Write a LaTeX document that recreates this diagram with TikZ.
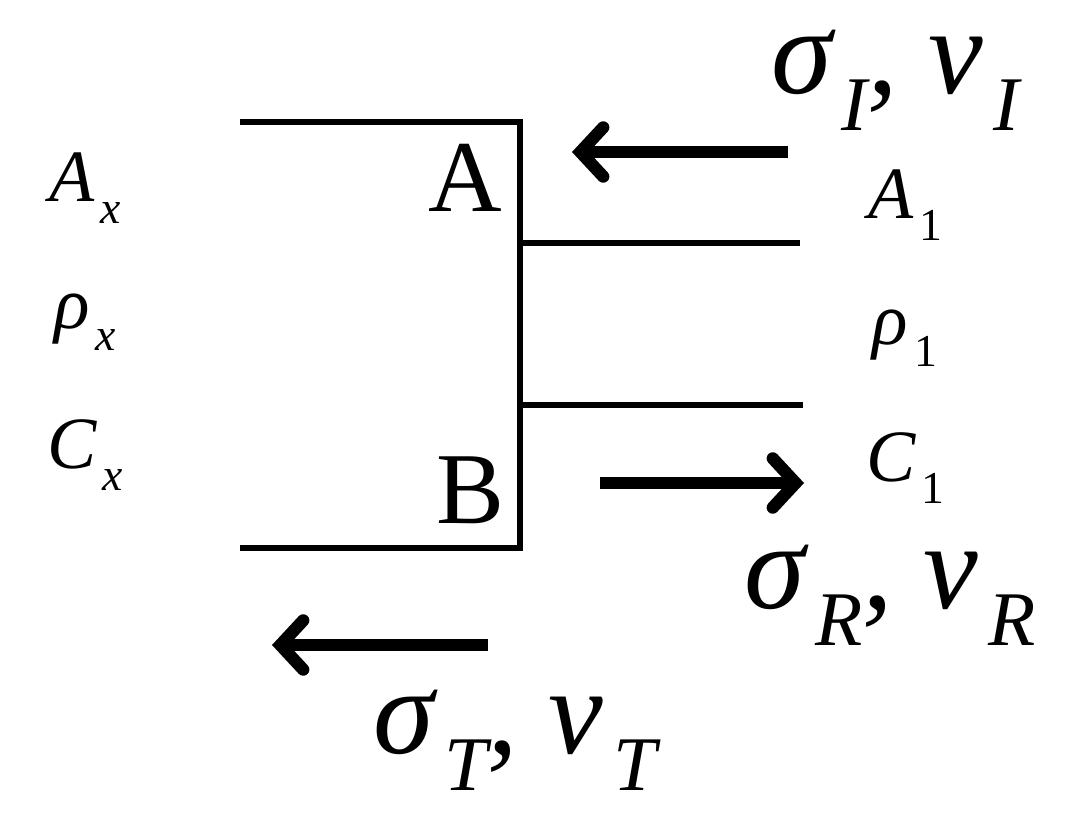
\documentclass[tikz,border=0pt]{standalone}
\usepackage{fontspec}
\setmainfont{Liberation Serif}
\usetikzlibrary{arrows.meta}
\newcommand{\lab}[4]{{\fontsize{#1}{#1}\selectfont\itshape #3\kern0.08em\raisebox{-0.3em}{\fontsize{#2}{#2}\selectfont #4}}}
\tikzset{wall/.style={line width=3.8pt},
  flow/.style={line width=7pt,-{Straight Barb[length=13pt,width=28pt,line cap=round]}},
  big/.style={inner sep=0pt,anchor=center}}
\begin{document}
\begin{tikzpicture}[x=0.02cm,y=-0.02cm]
\useasboundingbox (0,0) rectangle (1076,834);
\coordinate (t1) at (240,122); \coordinate (t2) at (520,122);
\coordinate (b1) at (240,548); \coordinate (b2) at (520,548);
\coordinate (m1) at (520,243); \coordinate (m2) at (800,243);
\coordinate (n1) at (520,405); \coordinate (n2) at (803,405);
\draw[wall] (t1) -- (t2) -- (b2) -- (b1);
\draw[wall] (m1) -- (m2);
\draw[wall] (n1) -- (n2);
\coordinate (a1) at (788,152); \coordinate (a2) at (572,152);
\coordinate (r1) at (600,483); \coordinate (r2) at (804,483);
\coordinate (s1) at (488,645); \coordinate (s2) at (272,645);
\draw[flow] (a1) -- (a2);
\draw[flow] (r1) -- (r2);
\draw[flow] (s1) -- (s2);
\node[big] (A) at (465,178) {\fontsize{58}{58}\selectfont A};
\node[big] (B) at (470,490) {\fontsize{58}{58}\selectfont B};
\node[big] (Ax) at (85,188) {\lab{42}{26}{A}{x}};
\node[big] (rx) at (85,322) {\lab{42}{26}{ρ}{x}};
\node[big] (Cx) at (85,455) {\lab{42}{26}{C}{x}};
\node[big] (A1) at (905,205) {\lab{42}{26}{A}{\upshape 1}};
\node[big] (r1l) at (905,338) {\lab{42}{26}{ρ}{\upshape 1}};
\node[big] (C1) at (905,468) {\lab{42}{26}{C}{\upshape 1}};
\node[big] (sI) at (895,80) {\lab{70}{44}{σ}{I}\lab{70}{44}{, ν}{I}};
\node[big] (sR) at (890,595) {\lab{70}{44}{σ}{R}\lab{70}{44}{, ν}{R}};
\node[big] (sT) at (515,740) {\lab{70}{44}{σ}{T}\lab{70}{44}{, ν}{T}};
\end{tikzpicture}
\end{document}
